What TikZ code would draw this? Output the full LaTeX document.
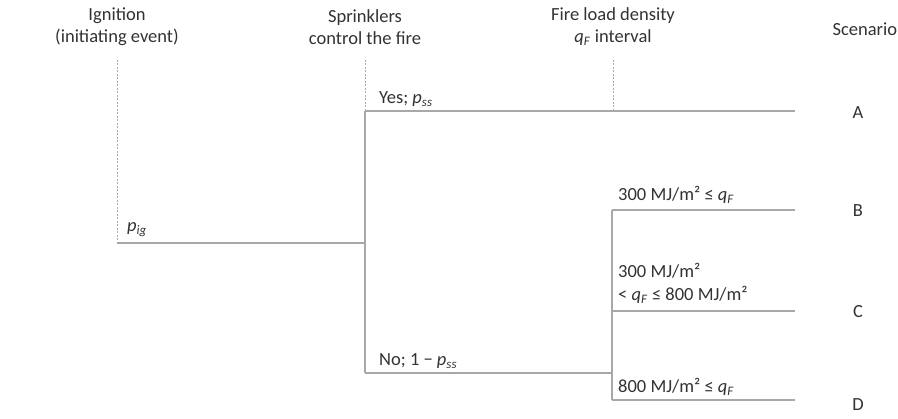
\documentclass[tikz,border=0pt]{standalone}
\usepackage{fontspec}
\setmainfont{Carlito}
\definecolor{treeGray}{RGB}{168, 168, 168}
\definecolor{textGray}{RGB}{50, 50, 50}
\newcommand{\itsub}[2]{\textit{#1}\textsubscript{\textit{#2}}}
\usetikzlibrary{positioning}

\begin{document}
\begin{tikzpicture}[x=1pt, y=-1pt,
    branch/.style={treeGray, line width=1.6pt},
    guide/.style={treeGray, line width=0.9pt, dash pattern=on 2pt off 1.5pt},
    head/.style={align=center, text=textGray, font=\fontsize{18.5}{22}\selectfont},
    lbl/.style={anchor=base west, inner sep=0pt, text=textGray, font=\fontsize{18.5}{22}\selectfont}]
    \useasboundingbox (0,0) rectangle (898,419);

    % Column headings
    \node[head] (hIg) at (117,27) {Ignition\\(initiating event)};
    \node[head] (hSp) at (365,27) {Sprinklers\\control the fire};
    \node[head] (hFl) at (613,27) {Fire load density\\\itsub{q}{F} interval};
    \node[head, anchor=west] (hSc) at (829,29) {Scenario};

    % Tree points
    \coordinate (igTop) at (117,60);
    \coordinate (spTop) at (365,60);
    \coordinate (flTop) at (613,60);
    \coordinate (flMid) at (613,111);
    \coordinate (ig) at (117,243);
    \coordinate (sp) at (365,243);
    \coordinate (spY) at (365,111);
    \coordinate (spN) at (365,373);
    \coordinate (fl) at (612,373);
    \coordinate (flB) at (612,210);
    \coordinate (flC) at (612,311);
    \coordinate (flD) at (612,400);
    \foreach \s/\y in {A/111, B/210, C/311, D/400} {
      \coordinate (end\s) at (795,\y);
    }

    % Dotted guides
    \draw[guide] (igTop) -- (ig);
    \draw[guide] (spTop) -- (spY);
    \draw[guide] (flTop) -- (flMid);

    % Branches
    \draw[branch] (ig) -- (sp);
    \draw[branch] (spY) -- (spN);
    \draw[branch] (spY) -- (endA);
    \draw[branch] (spN) -- (fl);
    \draw[branch] (flB) -- (flD);
    \foreach \s in {B, C, D} {
      \draw[branch] (fl\s) -- (end\s);
    }

    % Branch labels
    \node[lbl] (lIg) at (127,232) {\itsub{p}{ig}};
    \node[lbl] (lYes) at (379,104) {Yes; \itsub{p}{ss}};
    \node[lbl] (lNo) at (379,366) {No; 1 − \itsub{p}{ss}};
    \node[lbl] (lB) at (618,201) {300 MJ/m² ≤ \itsub{q}{F}};
    \node[lbl] (lC1) at (618,278) {300 MJ/m²};
    \node[lbl] (lC2) at (618,301) {< \itsub{q}{F} ≤ 800 MJ/m²};
    \node[lbl] (lD) at (618,393) {800 MJ/m² ≤ \itsub{q}{F}};

    % Scenarios
    \foreach \s/\y in {A/113, B/211, C/312, D/405} {
      \node[head] (sc\s) at (858,\y) {\s};
    }
\end{tikzpicture}
\end{document}
